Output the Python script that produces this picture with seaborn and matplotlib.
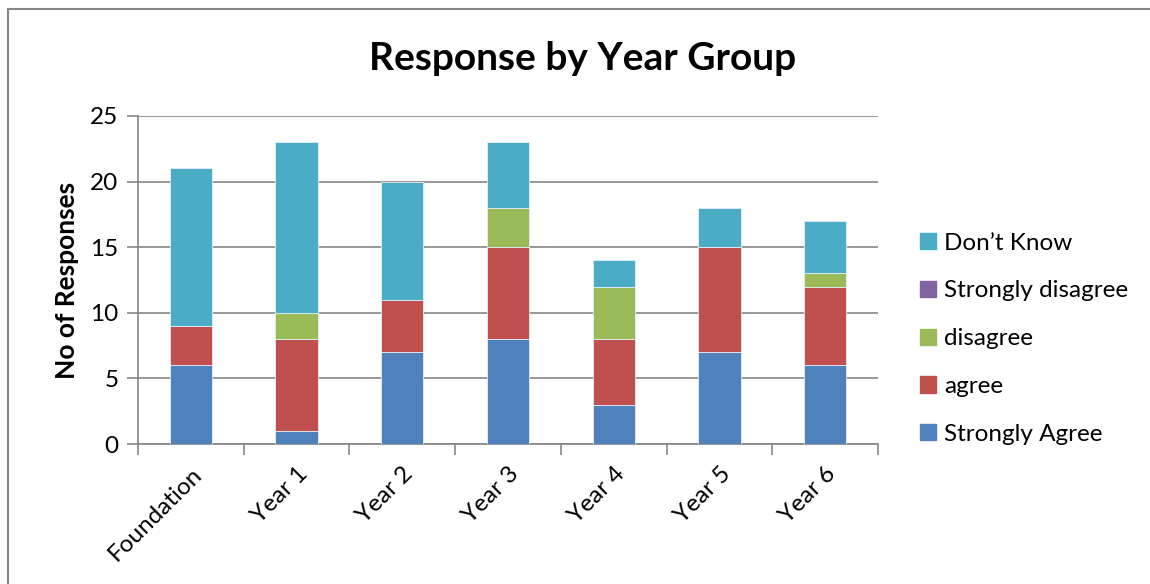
import matplotlib
matplotlib.use("Agg")
import matplotlib.pyplot as plt
import seaborn as sns
import numpy as np
from matplotlib.patches import Rectangle, Patch

# Data
categories = ["Foundation", "Year 1", "Year 2", "Year 3", "Year 4", "Year 5", "Year 6"]
strongly_agree = [6, 1, 7, 8, 3, 7, 6]
agree = [3, 7, 4, 7, 5, 8, 6]
disagree = [0, 2, 0, 3, 4, 0, 1]
strongly_disagree = [0, 0, 0, 0, 0, 0, 0]
dont_know = [12, 13, 9, 5, 2, 3, 4]

series = [
    ("Strongly Agree", strongly_agree, "#4f81bd"),
    ("agree", agree, "#c0504d"),
    ("disagree", disagree, "#9bbb59"),
    ("Strongly disagree", strongly_disagree, "#8064a2"),
    ("Don\u2019t Know", dont_know, "#4bacc6"),
]

sns.set_style("white")
plt.rcParams["font.family"] = ["Lato", "DejaVu Sans"]
plt.rcParams["text.color"] = "black"
plt.rcParams["xtick.color"] = "black"
plt.rcParams["ytick.color"] = "black"
plt.rcParams["axes.labelcolor"] = "black"

fig = plt.figure(figsize=(11.5, 5.84), dpi=100)
ax = fig.add_axes([0.12, 0.2397, 0.6435, 0.5617])

bottom = np.zeros(len(categories))
for name, vals, col in series:
    sns.barplot(x=categories, y=vals, bottom=bottom, color=col, width=0.4,
                saturation=1, ax=ax, edgecolor="#e6eef7", linewidth=0.6, zorder=3)
    bottom = bottom + np.array(vals)

ax.set_ylim(0, 25)
ax.set_xlim(-0.5, len(categories) - 0.5)
ax.set_yticks(range(0, 26, 5))
ax.yaxis.grid(True, color="#868686", linewidth=1.2, zorder=0)
ax.set_axisbelow(True)
for s in ["top", "right"]:
    ax.spines[s].set_visible(False)
for s in ["left", "bottom"]:
    ax.spines[s].set_color("#868686")
    ax.spines[s].set_linewidth(1.2)

ax.set_xticks(range(len(categories)))
ax.set_xticklabels(categories, rotation=45, ha="right", rotation_mode="anchor", fontsize=17.5)
ax.set_xticks(np.arange(-0.5, len(categories), 1), minor=True)
ax.tick_params(axis="x", which="major", length=0, pad=14)
ax.tick_params(axis="x", which="minor", length=8, width=1.2, color="#868686", direction="out")
ax.tick_params(axis="y", length=8, width=1.2, color="#868686", labelcolor="black",
               direction="out", labelsize=17.5, pad=6)
ax.tick_params(axis="y", which="both", left=True)
ax.tick_params(axis="x", which="minor", bottom=True)

ax.set_ylabel("No of Responses", fontsize=19, fontweight="bold", labelpad=8)
ax.set_xlabel("")
fig.text(0.507, 0.90, "Response by Year Group", ha="center", va="center",
         fontsize=28, fontweight="bold")

handles = [Patch(facecolor=c, edgecolor=c, label=n) for n, v, c in series][::-1]
fig.legend(handles=handles, loc="center left", bbox_to_anchor=(0.781, 0.42),
           frameon=False, fontsize=17.5, handlelength=0.65, handleheight=0.65,
           handletextpad=0.35, labelspacing=1.1)

fig.patches.append(Rectangle((0.007, -0.1), 1.1, 1.085, transform=fig.transFigure,
                             fill=False, edgecolor="#868686", linewidth=1.5))

fig.savefig("out.png", dpi=100)
